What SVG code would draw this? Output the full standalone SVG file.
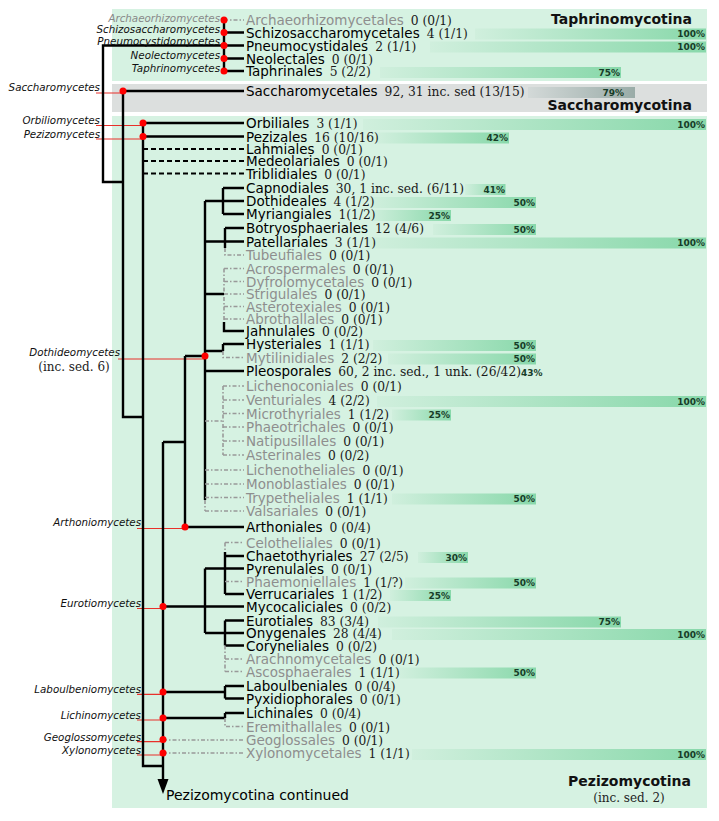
<svg xmlns="http://www.w3.org/2000/svg" width="719" height="821" viewBox="0 0 719 821">
<defs>
<linearGradient id="gb" x1="0" y1="0" x2="1" y2="0"><stop offset="0" stop-color="#d0efdd"/><stop offset="1" stop-color="#88d8aa"/></linearGradient>
<linearGradient id="gg" x1="0" y1="0" x2="1" y2="0"><stop offset="0" stop-color="#d3d9d8"/><stop offset="1" stop-color="#9aaca8"/></linearGradient>
</defs>
<style>
.o{font-family:"DejaVu Sans",Verdana,sans-serif;font-size:13.5px;fill:#000}
.u{fill:#8e8e8e}
.n{font-family:"DejaVu Serif",Georgia,serif;font-size:12.3px;fill:#1a1a1a}
.p{font-family:"DejaVu Sans",Verdana,sans-serif;font-size:9px;font-weight:bold;fill:#173d28}
.pe{text-anchor:end}
.c{font-family:"DejaVu Sans",Verdana,sans-serif;font-size:10.3px;font-style:italic;fill:#111;text-anchor:end}
.h{font-family:"DejaVu Sans",Verdana,sans-serif;font-size:14px;font-weight:bold;fill:#111;text-anchor:end}
.sf{font-family:"DejaVu Serif",Georgia,serif;font-size:12px;fill:#222;text-anchor:middle}
.s{stroke:#000;stroke-width:2.4;fill:none}
.g{stroke:#999;stroke-width:1.6;fill:none;stroke-dasharray:4 2 1.5 2}
.d{stroke:#000;stroke-width:2;fill:none;stroke-dasharray:5 3}
.r{stroke:#e8302a;stroke-width:1.2;fill:none}
.dot{fill:#f00}
.bg{fill:#d6f2e2}
</style>
<g id="panels">
<rect class="bg" x="112" y="9" width="595" height="72"/>
<rect x="112" y="84" width="595" height="28" fill="#dcdfde"/>
<rect class="bg" x="112" y="116" width="595" height="692"/>
<text class="h" x="692" y="23.5">Taphrinomycotina</text>
<text class="h" x="692" y="109.5">Saccharomycotina</text>
<text class="h" x="691" y="785.5">Pezizomycotina</text>
<text class="sf" x="629" y="802">(inc. sed. 2)</text>
</g>
<g id="bars">
<rect x="475" y="28.5" width="231" height="11" fill="url(#gb)"/><text class="p pe" x="705" y="37">100%</text>
<rect x="430" y="41.5" width="276" height="11" fill="url(#gb)"/><text class="p pe" x="705" y="50">100%</text>
<rect x="380" y="67" width="241" height="11" fill="url(#gb)"/><text class="p pe" x="620" y="75.5">75%</text>
<rect x="528" y="87" width="107" height="11" fill="url(#gg)"/><text class="p pe" x="624" y="96">79%</text>
<rect x="363" y="119" width="343" height="11" fill="url(#gb)"/><text class="p pe" x="705" y="127.5">100%</text>
<rect x="377" y="132.5" width="132" height="11" fill="url(#gb)"/><text class="p pe" x="508" y="141">42%</text>
<rect x="465" y="184" width="40.5" height="11" fill="url(#gb)"/><text class="p pe" x="505" y="192.5">41%</text>
<rect x="370" y="197" width="166" height="11" fill="url(#gb)"/><text class="p pe" x="535" y="205.5">50%</text>
<rect x="370" y="210" width="81" height="11" fill="url(#gb)"/><text class="p pe" x="450" y="218.5">25%</text>
<rect x="433" y="224" width="103" height="11" fill="url(#gb)"/><text class="p pe" x="535" y="232.5">50%</text>
<rect x="368" y="237.5" width="338" height="11" fill="url(#gb)"/><text class="p pe" x="705" y="246">100%</text>
<rect x="373" y="340" width="163" height="11" fill="url(#gb)"/><text class="p pe" x="535" y="348.5">50%</text>
<rect x="388" y="353.5" width="148" height="11" fill="url(#gb)"/><text class="p pe" x="535" y="362">50%</text>
<rect x="377" y="396" width="329" height="11" fill="url(#gb)"/><text class="p pe" x="705" y="404.5">100%</text>
<rect x="392" y="409.5" width="59" height="11" fill="url(#gb)"/><text class="p pe" x="450" y="418">25%</text>
<rect x="392" y="493.5" width="144" height="11" fill="url(#gb)"/><text class="p pe" x="535" y="502">50%</text>
<rect x="418" y="552" width="50" height="11" fill="url(#gb)"/><text class="p pe" x="467" y="560.5">30%</text>
<rect x="405" y="577.5" width="131" height="11" fill="url(#gb)"/><text class="p pe" x="535" y="586">50%</text>
<rect x="390" y="590" width="61" height="11" fill="url(#gb)"/><text class="p pe" x="450" y="598.5">25%</text>
<rect x="378" y="616.5" width="243" height="11" fill="url(#gb)"/><text class="p pe" x="620" y="625">75%</text>
<rect x="392" y="629" width="314" height="11" fill="url(#gb)"/><text class="p pe" x="705" y="637.5">100%</text>
<rect x="400" y="667.5" width="136" height="11" fill="url(#gb)"/><text class="p pe" x="535" y="676">50%</text>
<rect x="412" y="749" width="294" height="11" fill="url(#gb)"/><text class="p pe" x="705" y="757.5">100%</text>
</g>
<g id="connectors">
<path class="r" d="M96,93H123M96,125.5H143M96,139H143M118,359H205M137,528.5H185M137,608.5H163M137,694.3H163M137,720H163M137,741.7H163M137,755H163"/>
<path class="s" d="M224,20V71M224,32.5H244M224,45.5H244M224,58.5H244M224,71H244M224,45.5H103V182H123M123,91H244M123,91V417H143M143,123V766H163M143,123H244M143,136.5H244"/>
<path class="g" d="M224,20H244"/>
<path class="d" d="M143,149H244M143,161H244M143,173.5H244"/>
<path class="s" d="M163,442H185M163,442V780M185,356V527H244M185,356H205M205,201V500"/>
<path class="g" d="M205,500V511"/>
<path class="s" d="M223,188V214M223,188H244M205,201H244M223,214H244M225,228V248M225,228H244M205,241.5H244"/>
<path class="g" d="M225,248V255H244"/>
<path class="g" d="M224,268.5V322M224,268.5H244M224,281.5H244M224,294H244M224,306.5H244M224,319H244"/>
<path class="s" d="M205,294H224M224,322V331H244"/>
<path class="s" d="M205,351H223M223,344V351M223,344H244M205,371H244"/>
<path class="g" d="M223,351V357.5H244"/>
<path class="g" d="M205,421H223M223,386V455M223,386H244M223,400H244M223,413.5H244M223,427H244M223,441H244M223,455H244M205,470H244M205,484H244M205,497.5H244M205,511H244"/>
<path class="s" d="M163,606.5H244M205,568.5V633M205,568.5H244M205,633H244M225,552V594M225,556H244M225,594H244M225,620.5V645.5M225,620.5H244M225,645.5H244"/>
<path class="g" d="M225,542.5V552M225,542.5H244M225,581.5H244M225,645.5V671.5M225,659H244M225,671.5H244"/>
<path class="s" d="M163,692H225M225,686V698.5M225,686H244M225,698.5H244M163,718H225M225,713V718M225,713H244"/>
<path class="g" d="M225,718V726.5H244M163,740H244M163,753H244"/>
<polygon points="157.5,779 168.5,779 163,794" fill="#000"/>
</g>
<g id="c-archaeorhizomycetes"><text class="c" x="220" y="22" style="fill:#888">Archaeorhizomycetes</text><circle class="dot" cx="224" cy="20" r="3.5"/></g>
<g id="c-schizosaccharomycetes"><text class="c" x="220" y="33">Schizosaccharomycetes</text><circle class="dot" cx="224" cy="32.5" r="3.5"/></g>
<g id="c-pneumocystidomycetes"><text class="c" x="220" y="44.5">Pneumocystidomycetes</text><circle class="dot" cx="224" cy="45.5" r="3.5"/></g>
<g id="c-neolectomycetes"><text class="c" x="220" y="58.5">Neolectomycetes</text><circle class="dot" cx="224" cy="58.5" r="3.5"/></g>
<g id="c-taphrinomycetes"><text class="c" x="220" y="72">Taphrinomycetes</text><circle class="dot" cx="224" cy="71" r="3.5"/></g>
<g id="c-saccharomycetes"><text class="c" x="100" y="91">Saccharomycetes</text><circle class="dot" cx="123" cy="91" r="3.5"/></g>
<g id="c-orbiliomycetes"><text class="c" x="100" y="124">Orbiliomycetes</text><circle class="dot" cx="143" cy="123" r="3.5"/></g>
<g id="c-pezizomycetes"><text class="c" x="100" y="137.5">Pezizomycetes</text><circle class="dot" cx="143" cy="136.5" r="3.5"/></g>
<g id="c-dothideomycetes"><text class="c" x="120" y="356">Dothideomycetes</text><text class="sf" x="74" y="371">(inc. sed. 6)</text><circle class="dot" cx="205" cy="356" r="3.5"/></g>
<g id="c-arthoniomycetes"><text class="c" x="141" y="526">Arthoniomycetes</text><circle class="dot" cx="185" cy="527" r="3.5"/></g>
<g id="c-eurotiomycetes"><text class="c" x="141" y="607">Eurotiomycetes</text><circle class="dot" cx="163" cy="606.5" r="3.5"/></g>
<g id="c-laboulbeniomycetes"><text class="c" x="141" y="693">Laboulbeniomycetes</text><circle class="dot" cx="163" cy="692" r="3.5"/></g>
<g id="c-lichinomycetes"><text class="c" x="141" y="718.5">Lichinomycetes</text><circle class="dot" cx="163" cy="718" r="3.5"/></g>
<g id="c-geoglossomycetes"><text class="c" x="141" y="740.5">Geoglossomycetes</text><circle class="dot" cx="163" cy="739.5" r="3.5"/></g>
<g id="c-xylonomycetes"><text class="c" x="141" y="754">Xylonomycetes</text><circle class="dot" cx="163" cy="753" r="3.5"/></g>
<g id="orders">
<g id="o-archaeorhizomycetales"><text class="o" x="246" y="25"><tspan class="u">Archaeorhizomycetales</tspan><tspan class="n" dx="7">0 (0/1)</tspan></text></g>
<g id="o-schizosaccharomycetales"><text class="o" x="246" y="37.5">Schizosaccharomycetales<tspan class="n" dx="7">4 (1/1)</tspan></text></g>
<g id="o-pneumocystidales"><text class="o" x="246" y="50.5">Pneumocystidales<tspan class="n" dx="7">2 (1/1)</tspan></text></g>
<g id="o-neolectales"><text class="o" x="246" y="63.5">Neolectales<tspan class="n" dx="7">0 (0/1)</tspan></text></g>
<g id="o-taphrinales"><text class="o" x="246" y="76">Taphrinales<tspan class="n" dx="7">5 (2/2)</tspan></text></g>
<g id="o-saccharomycetales"><text class="o" x="246" y="96">Saccharomycetales<tspan class="n" dx="7">92, 31 inc. sed (13/15)</tspan></text></g>
<g id="o-orbiliales"><text class="o" x="246" y="128">Orbiliales<tspan class="n" dx="7">3 (1/1)</tspan></text></g>
<g id="o-pezizales"><text class="o" x="246" y="141.5">Pezizales<tspan class="n" dx="7">16 (10/16)</tspan></text></g>
<g id="o-lahmiales"><text class="o" x="246" y="154">Lahmiales<tspan class="n" dx="7">0 (0/1)</tspan></text></g>
<g id="o-medeolariales"><text class="o" x="246" y="166">Medeolariales<tspan class="n" dx="7">0 (0/1)</tspan></text></g>
<g id="o-triblidiales"><text class="o" x="246" y="178.5">Triblidiales<tspan class="n" dx="7">0 (0/1)</tspan></text></g>
<g id="o-capnodiales"><text class="o" x="246" y="193">Capnodiales<tspan class="n" dx="7">30, 1 inc. sed. (6/11)</tspan></text></g>
<g id="o-dothideales"><text class="o" x="246" y="206">Dothideales<tspan class="n" dx="7">4 (1/2)</tspan></text></g>
<g id="o-myriangiales"><text class="o" x="246" y="219">Myriangiales<tspan class="n" dx="7">1(1/2)</tspan></text></g>
<g id="o-botryosphaeriales"><text class="o" x="246" y="233">Botryosphaeriales<tspan class="n" dx="7">12 (4/6)</tspan></text></g>
<g id="o-patellariales"><text class="o" x="246" y="246.5">Patellariales<tspan class="n" dx="7">3 (1/1)</tspan></text></g>
<g id="o-tubeufiales"><text class="o" x="246" y="260"><tspan class="u">Tubeufiales</tspan><tspan class="n" dx="7">0 (0/1)</tspan></text></g>
<g id="o-acrospermales"><text class="o" x="246" y="273.5"><tspan class="u">Acrospermales</tspan><tspan class="n" dx="7">0 (0/1)</tspan></text></g>
<g id="o-dyfrolomycetales"><text class="o" x="246" y="286.5"><tspan class="u">Dyfrolomycetales</tspan><tspan class="n" dx="7">0 (0/1)</tspan></text></g>
<g id="o-strigulales"><text class="o" x="246" y="299"><tspan class="u">Strigulales</tspan><tspan class="n" dx="7">0 (0/1)</tspan></text></g>
<g id="o-asterotexiales"><text class="o" x="246" y="311.5"><tspan class="u">Asterotexiales</tspan><tspan class="n" dx="7">0 (0/1)</tspan></text></g>
<g id="o-abrothallales"><text class="o" x="246" y="324"><tspan class="u">Abrothallales</tspan><tspan class="n" dx="7">0 (0/1)</tspan></text></g>
<g id="o-jahnulales"><text class="o" x="246" y="336">Jahnulales<tspan class="n" dx="7">0 (0/2)</tspan></text></g>
<g id="o-hysteriales"><text class="o" x="246" y="349">Hysteriales<tspan class="n" dx="7">1 (1/1)</tspan></text></g>
<g id="o-mytilinidiales"><text class="o" x="246" y="362.5"><tspan class="u">Mytilinidiales</tspan><tspan class="n" dx="7">2 (2/2)</tspan></text></g>
<g id="o-pleosporales"><text class="o" x="246" y="376">Pleosporales<tspan class="n" dx="7">60, 2 inc. sed., 1 unk. (26/42)</tspan><tspan class="p">43%</tspan></text></g>
<g id="o-lichenoconiales"><text class="o" x="246" y="391"><tspan class="u">Lichenoconiales</tspan><tspan class="n" dx="7">0 (0/1)</tspan></text></g>
<g id="o-venturiales"><text class="o" x="246" y="405"><tspan class="u">Venturiales</tspan><tspan class="n" dx="7">4 (2/2)</tspan></text></g>
<g id="o-microthyriales"><text class="o" x="246" y="418.5"><tspan class="u">Microthyriales</tspan><tspan class="n" dx="7">1 (1/2)</tspan></text></g>
<g id="o-phaeotrichales"><text class="o" x="246" y="432"><tspan class="u">Phaeotrichales</tspan><tspan class="n" dx="7">0 (0/1)</tspan></text></g>
<g id="o-natipusillales"><text class="o" x="246" y="446"><tspan class="u">Natipusillales</tspan><tspan class="n" dx="7">0 (0/1)</tspan></text></g>
<g id="o-asterinales"><text class="o" x="246" y="460"><tspan class="u">Asterinales</tspan><tspan class="n" dx="7">0 (0/2)</tspan></text></g>
<g id="o-lichenotheliales"><text class="o" x="246" y="475"><tspan class="u">Lichenotheliales</tspan><tspan class="n" dx="7">0 (0/1)</tspan></text></g>
<g id="o-monoblastiales"><text class="o" x="246" y="489"><tspan class="u">Monoblastiales</tspan><tspan class="n" dx="7">0 (0/1)</tspan></text></g>
<g id="o-trypetheliales"><text class="o" x="246" y="502.5"><tspan class="u">Trypetheliales</tspan><tspan class="n" dx="7">1 (1/1)</tspan></text></g>
<g id="o-valsariales"><text class="o" x="246" y="516"><tspan class="u">Valsariales</tspan><tspan class="n" dx="7">0 (0/1)</tspan></text></g>
<g id="o-arthoniales"><text class="o" x="246" y="532">Arthoniales<tspan class="n" dx="7">0 (0/4)</tspan></text></g>
<g id="o-celotheliales"><text class="o" x="246" y="547.5"><tspan class="u">Celotheliales</tspan><tspan class="n" dx="7">0 (0/1)</tspan></text></g>
<g id="o-chaetothyriales"><text class="o" x="246" y="561">Chaetothyriales<tspan class="n" dx="7">27 (2/5)</tspan></text></g>
<g id="o-pyrenulales"><text class="o" x="246" y="573.5">Pyrenulales<tspan class="n" dx="7">0 (0/1)</tspan></text></g>
<g id="o-phaemoniellales"><text class="o" x="246" y="586.5"><tspan class="u">Phaemoniellales</tspan><tspan class="n" dx="7">1 (1/?)</tspan></text></g>
<g id="o-verrucariales"><text class="o" x="246" y="599">Verrucariales<tspan class="n" dx="7">1 (1/2)</tspan></text></g>
<g id="o-mycocaliciales"><text class="o" x="246" y="611.5">Mycocaliciales<tspan class="n" dx="7">0 (0/2)</tspan></text></g>
<g id="o-eurotiales"><text class="o" x="246" y="625.5">Eurotiales<tspan class="n" dx="7">83 (3/4)</tspan></text></g>
<g id="o-onygenales"><text class="o" x="246" y="638">Onygenales<tspan class="n" dx="7">28 (4/4)</tspan></text></g>
<g id="o-coryneliales"><text class="o" x="246" y="650.5">Coryneliales<tspan class="n" dx="7">0 (0/2)</tspan></text></g>
<g id="o-arachnomycetales"><text class="o" x="246" y="664"><tspan class="u">Arachnomycetales</tspan><tspan class="n" dx="7">0 (0/1)</tspan></text></g>
<g id="o-ascosphaerales"><text class="o" x="246" y="676.5"><tspan class="u">Ascosphaerales</tspan><tspan class="n" dx="7">1 (1/1)</tspan></text></g>
<g id="o-laboulbeniales"><text class="o" x="246" y="691">Laboulbeniales<tspan class="n" dx="7">0 (0/4)</tspan></text></g>
<g id="o-pyxidiophorales"><text class="o" x="246" y="703.5">Pyxidiophorales<tspan class="n" dx="7">0 (0/1)</tspan></text></g>
<g id="o-lichinales"><text class="o" x="246" y="718">Lichinales<tspan class="n" dx="7">0 (0/4)</tspan></text></g>
<g id="o-eremithallales"><text class="o" x="246" y="731.5"><tspan class="u">Eremithallales</tspan><tspan class="n" dx="7">0 (0/1)</tspan></text></g>
<g id="o-geoglossales"><text class="o" x="246" y="745"><tspan class="u">Geoglossales</tspan><tspan class="n" dx="7">0 (0/1)</tspan></text></g>
<g id="o-xylonomycetales"><text class="o" x="246" y="758"><tspan class="u">Xylonomycetales</tspan><tspan class="n" dx="7">1 (1/1)</tspan></text></g>
<g id="o-continued"><text class="o" x="166" y="800" style="font-size:14px">Pezizomycotina continued</text></g>
</g>
</svg>
